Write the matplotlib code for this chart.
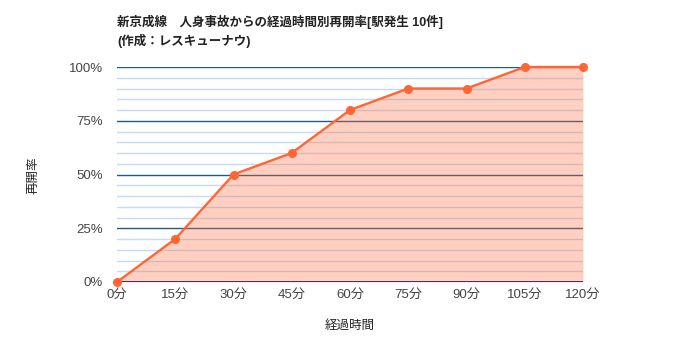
import matplotlib
matplotlib.use("Agg")
import matplotlib.pyplot as plt

plt.rcParams['font.family'] = ['Liberation Sans', 'Noto Sans CJK JP', 'DejaVu Sans']

minutes = [0, 15, 30, 45, 60, 75, 90, 105, 120]
rates = [0, 20, 50, 60, 80, 90, 90, 100, 100]
xtick_labels = [f"{m}分" for m in minutes]
ytick_values = [0, 25, 50, 75, 100]
ytick_labels = ["0%", "25%", "50%", "75%", "100%"]

fig = plt.figure(figsize=(7, 3.5), dpi=100)
ax = fig.add_axes([117/700, 1-282/350, (583-117)/700, (282-67)/350])

# gridlines
for v in range(5, 100, 5):
    if v % 25 != 0:
        ax.axhline(v, color='#c6d9f5', lw=1, zorder=1)
for v in [25, 50, 75, 100]:
    ax.axhline(v, color='#1f5c8c', lw=1, zorder=1)
ax.axhline(0, color='#1a1466', lw=1.2, zorder=4)

ax.fill_between(minutes, rates, 0, color='#ff6633', alpha=0.3, lw=0, zorder=2)
ax.plot(minutes, rates, color='#ff6633', lw=1.7, marker='o', ms=5.5, zorder=5, clip_on=False)

ax.set_xlim(0, 120)
ax.set_ylim(0, 100)
ax.set_xticks(minutes)
ax.set_xticklabels(xtick_labels)
ax.set_yticks(ytick_values)
ax.set_yticklabels(ytick_labels)
ax.tick_params(length=0, labelsize=9.5, colors='#444444')
ax.tick_params(axis='y', pad=10)
ax.tick_params(axis='x', pad=5)
for s in ax.spines.values():
    s.set_visible(False)

fig.text(117/700, 1-22/350, "新京成線　人身事故からの経過時間別再開率[駅発生 10件]",
         fontsize=9, fontweight='bold', color='#222222', va='center', ha='left')
fig.text(117/700, 1-41/350, "(作成：レスキューナウ)",
         fontsize=9, fontweight='bold', color='#222222', va='center', ha='left')
fig.text(350/700, 1-326/350, "経過時間", fontsize=9, style='italic', color='#222222',
         ha='center', va='center')
fig.text(33/700, 1-175/350, "再開率", fontsize=9, style='italic', color='#222222',
         ha='center', va='center', rotation=90)

fig.savefig("out.png", dpi=100)
